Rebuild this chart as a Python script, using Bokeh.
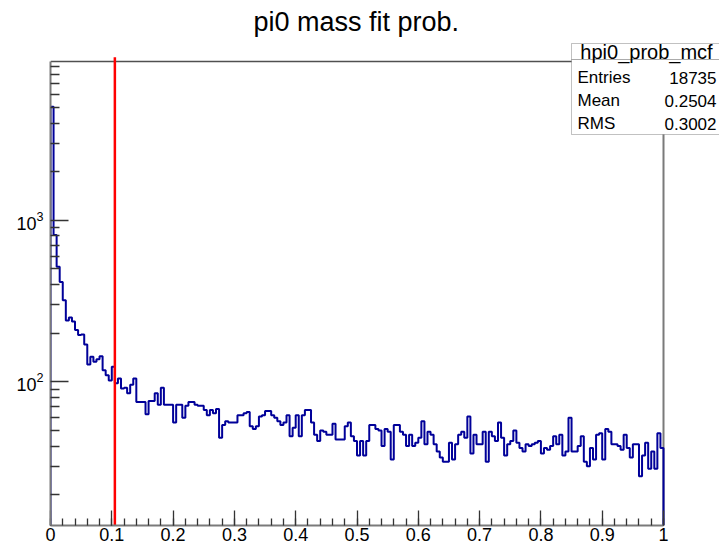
import math
from bokeh.plotting import figure
from bokeh.models import (Range1d, FixedTicker, CustomJSTickFormatter,
                          BoxAnnotation, Label)
from bokeh.embed import file_html
from bokeh.resources import INLINE

# ---- data -------------------------------------------------------------
title_text = "pi0 mass fit prob."
hist_name = "hpi0_prob_mcf"
x_min, x_max, n_bins = 0.0, 1.0, 200

counts = [
    5035, 810, 515, 415, 320, 240, 250, 236, 209, 195,
    196, 170, 128, 143, 133, 138, 144, 118, 110, 102,
    124, 98, 105, 91, 92, 85, 96, 105, 75, 75,
    75, 63, 76, 76, 85, 72, 92, 72, 72, 72,
    56, 72, 72, 60, 71, 75, 75, 72, 71, 71,
    67, 62, 67, 64, 68, 45, 54, 57, 56, 56,
    56, 62, 62, 64, 65, 53, 51, 53, 61, 62,
    66, 66, 62, 60, 57, 54, 56, 62, 46, 52,
    62, 46, 62, 67, 67, 56, 47, 43, 50, 49,
    47, 47, 55, 44, 44, 44, 53, 56, 46, 43,
    35, 43, 35, 43, 54, 54, 51, 50, 40, 51,
    49, 33, 54, 54, 49, 47, 40, 47, 40, 42,
    45, 57, 41, 49, 47, 41, 37, 34, 32, 32,
    42, 33, 41, 47, 49, 45, 61, 36, 47, 41,
    41, 49, 32, 49, 46, 43, 56, 45, 35, 41,
    43, 50, 42, 39, 37, 41, 40, 41, 42, 43,
    36, 39, 38, 40, 46, 41, 47, 35, 37, 60,
    37, 37, 40, 46, 32, 30, 39, 33, 47, 48,
    33, 51, 49, 41, 41, 40, 38, 47, 39, 34,
    41, 41, 26, 35, 42, 29, 37, 29, 48, 39,
]

stat_names = ["Entries", "Mean", "RMS"]
stat_values = ["18735", "0.2504", "0.3002"]

# vertical cut line: x position and the height it is drawn up to
cut_value = 0.105
cut_top = 1.02e4

x_major_ticks = [i / 10 for i in range(11)]
x_minor_ticks = [i / 50 for i in range(51)]
y_major_ticks = [100, 1000]
y_minor_ticks = [m * 10 for m in range(2, 10)] + [m * 100 for m in range(2, 10)] \
    + [m * 1000 for m in range(2, 10)]
y_lo, y_hi = 12.9, 9600

# ---- page geometry (pixels) ---------------------------------------------
W, H = 719, 543
PAD_L, PAD_TOP = 50, 40          # left margin, top of drawing area
PAD_X = 56                        # room right of the histogram frame
FRAME_TOP_GAP = 21                # frame top sits this far below PAD_TOP
FRAME_H = 462                     # histogram frame height
FRAME_W = W - PAD_L - PAD_X

# the drawing area runs to the right edge and up to PAD_TOP, so the
# histogram frame is drawn explicitly and the stats box can overlap it
x_ext = x_max + (x_max - x_min) * PAD_X / FRAME_W
lg_lo, lg_hi = math.log10(y_lo), math.log10(y_hi)
y_ext = 10 ** (lg_hi + (lg_hi - lg_lo) * FRAME_TOP_GAP / FRAME_H)

# ---- histogram outline --------------------------------------------------
bw = (x_max - x_min) / n_bins
edges = [x_min + i * bw for i in range(n_bins + 1)]
xs, ys = [edges[0]], [y_lo]
for i, c in enumerate(counts):
    xs += [edges[i], edges[i + 1]]
    ys += [c, c]
xs.append(edges[-1])
ys.append(y_lo)

FONT = "Liberation Sans"

p = figure(width=W, height=H, y_axis_type="log",
           x_range=Range1d(x_min, x_ext), y_range=Range1d(y_lo, y_ext),
           output_backend="svg", toolbar_location=None,
           min_border_left=PAD_L, min_border_right=0,
           min_border_top=PAD_TOP, min_border_bottom=0)

p.background_fill_color = "white"
p.border_fill_color = "white"
p.outline_line_color = None
p.grid.visible = False

# title centred over the histogram frame, not the whole drawing area
p.title.text = title_text
p.title.align = "left"
p.title.offset = 203
p.title.text_font = FONT
p.title.text_font_size = "27px"
p.title.text_font_style = "normal"
p.title.text_color = "black"
p.title.standoff = 8

for ax in (p.xaxis[0], p.yaxis[0]):
    ax.axis_line_color = "#7a7a7a"
    ax.axis_line_width = 2
    ax.major_tick_line_color = "#333333"
    ax.minor_tick_line_color = "#333333"
    ax.major_tick_line_width = 1.3
    ax.minor_tick_line_width = 1.3
    ax.major_tick_out = 0
    ax.minor_tick_out = 0
    ax.major_label_text_font = FONT
    ax.major_label_text_color = "black"
    ax.major_label_text_font_size = "18px"

p.xaxis.bounds = (x_min, x_max)
p.xaxis.ticker = FixedTicker(ticks=x_major_ticks, minor_ticks=x_minor_ticks)
p.xaxis.formatter = CustomJSTickFormatter(
    code="return (Math.round(tick * 10) / 10).toString();")
p.xaxis.major_tick_in = 15
p.xaxis.minor_tick_in = 7
p.xaxis.major_label_standoff = 2

p.yaxis.bounds = (y_lo, y_hi)
p.yaxis.ticker = FixedTicker(ticks=y_major_ticks, minor_ticks=y_minor_ticks)
p.yaxis.major_tick_in = 18
p.yaxis.minor_tick_in = 9
p.yaxis.major_label_standoff = 7

# top and right sides of the histogram frame
p.line([x_min, x_max], [y_hi, y_hi], line_color="#505050", line_width=1.5)
p.line([x_max, x_max], [y_lo, y_hi], line_color="#7a7a7a", line_width=2)

p.line(xs, ys, line_color="#000099", line_width=2)

p.segment(x0=[cut_value], y0=[y_lo], x1=[cut_value], y1=[cut_top],
          line_color="#ff0000", line_width=2.5)

# ---- stats box (canvas coordinates) -------------------------------------
def cbox(l, r, t, b, **kw):
    return BoxAnnotation(left=l, right=r, top=t, bottom=b,
                         left_units="canvas", right_units="canvas",
                         top_units="canvas", bottom_units="canvas",
                         level="annotation", **kw)

p.add_layout(cbox(571, 722, 43, 59, fill_color="white", fill_alpha=1,
                  line_color="#333333", line_width=1))
p.add_layout(cbox(571, 722, 59, 134, fill_color="white", fill_alpha=1,
                  line_color="#333333", line_width=1))

def stat_label(x, y, text, align, size):
    lab = Label(x=x, y=y, x_units="canvas", y_units="canvas", text=text,
                text_align=align, text_baseline="middle", text_font=FONT,
                text_font_size=size, text_color="black")
    lab.level = "overlay"
    return lab

p.add_layout(stat_label(646, 51, hist_name, "center", "20px"))
row_y = [77, 100, 123]
for name, val, yy in zip(stat_names, stat_values, row_y):
    p.add_layout(stat_label(577, yy, name, "left", "17px"))
    p.add_layout(stat_label(716, yy, val, "right", "17px"))

open("out.html", "w").write(file_html(p, INLINE))
